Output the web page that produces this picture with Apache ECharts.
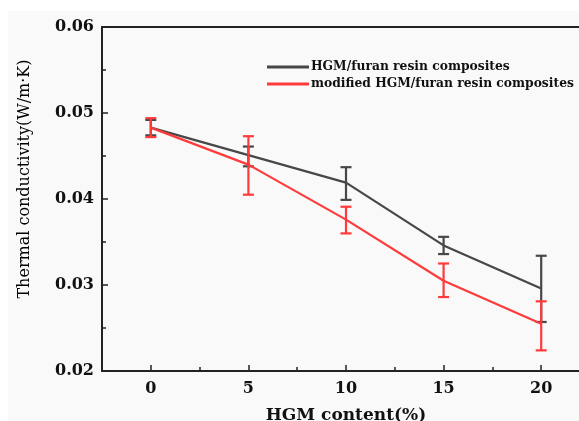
<!DOCTYPE html>
<html>
<head>
<meta charset="utf-8">
<script src="https://cdn.jsdelivr.net/npm/echarts@6/dist/echarts.min.js"></script>
<style>html,body{margin:0;padding:0;background:#fff;}#c{width:579px;height:421px;}</style>
</head>
<body>
<div id="c"></div>
<script>
const xValues = [0, 5, 10, 15, 20];
const hgmMean = [0.0483, 0.0451, 0.0419, 0.0346, 0.0296];
const hgmLow  = [0.0474, 0.0438, 0.0399, 0.0336, 0.0257];
const hgmHigh = [0.0492, 0.0461, 0.0437, 0.0356, 0.0334];
const modMean = [0.0483, 0.0440, 0.0376, 0.0305, 0.0255];
const modLow  = [0.0472, 0.0405, 0.0360, 0.0286, 0.0224];
const modHigh = [0.0494, 0.0473, 0.0391, 0.0325, 0.0281];
const xTicks = [0, 5, 10, 15, 20];
const xMinorTicks = [2.5, 7.5, 12.5, 17.5];
const seriesNames = ['HGM/furan resin composites', 'modified HGM/furan resin composites'];

const BLACK = '#474747';
const RED = '#ff3a3a';
const FONT = 'DejaVu Serif';

function errSeries(name, low, high, color, z) {
  return {
    type: 'custom',
    name: name,
    xAxisIndex: 0,
    yAxisIndex: 0,
    data: xValues.map((x, i) => [x, low[i], high[i]]),
    renderItem: function (params, api) {
      const x = api.value(0);
      const lo = api.coord([x, api.value(1)]);
      const hi = api.coord([x, api.value(2)]);
      const w = 5.5;
      const st = { stroke: color, lineWidth: 2.2 };
      return {
        type: 'group',
        children: [
          { type: 'line', shape: { x1: lo[0], y1: lo[1], x2: hi[0], y2: hi[1] }, style: st },
          { type: 'line', shape: { x1: lo[0] - w, y1: lo[1], x2: lo[0] + w, y2: lo[1] }, style: st },
          { type: 'line', shape: { x1: hi[0] - w, y1: hi[1], x2: hi[0] + w, y2: hi[1] }, style: st }
        ]
      };
    },
    z: z,
    silent: true
  };
}

const chart = echarts.init(document.getElementById('c'));
chart.setOption({
  animation: false,
  backgroundColor: '#ffffff',
  graphic: [
    { type: 'rect', shape: { x: 8, y: 11, width: 571, height: 410 }, style: { fill: '#f9f9f9' }, z: -10, silent: true },
    { type: 'text', x: 25, y: 179, rotation: Math.PI / 2,
      style: { text: 'Thermal conductivity(W/m·K)', font: '16px "' + FONT + '"', fill: '#000', align: 'center', verticalAlign: 'middle' } }
  ],
  grid: { left: 102, top: 27, width: 488, height: 344, outerBoundsMode: 'none', containLabel: false },
  legend: {
    orient: 'vertical', left: 262, top: 56, itemGap: 5, itemWidth: 42, itemHeight: 3,
    icon: 'rect',
    textStyle: { fontFamily: FONT, fontWeight: 'bold', fontSize: 12.3, color: '#111', padding: [0, 0, 0, -3] },
    data: seriesNames
  },
  xAxis: [
    {
      type: 'value', min: -2.5, max: 22.5,
      axisLine: { show: true, onZero: false, lineStyle: { color: '#222', width: 2 } },
      splitLine: { show: false },
      axisTick: { show: true, inside: true, length: 6, customValues: xTicks, lineStyle: { color: '#222', width: 1.5 } },
      axisLabel: { customValues: xTicks, margin: 10, fontFamily: FONT, fontWeight: 'bold', fontSize: 16, color: '#111' },
      name: 'HGM content(%)', nameLocation: 'middle', nameGap: 36,
      nameTextStyle: { fontFamily: FONT, fontWeight: 'bold', fontSize: 17, color: '#111' }
    },
    {
      type: 'value', min: -2.5, max: 22.5, position: 'bottom',
      axisLine: { show: false, onZero: false },
      splitLine: { show: false },
      axisTick: { show: true, inside: true, length: 4, customValues: xMinorTicks, lineStyle: { color: '#222', width: 1.5 } },
      axisLabel: { show: false }
    },
    {
      type: 'value', min: -2.5, max: 22.5, position: 'top',
      axisLine: { show: true, onZero: false, lineStyle: { color: '#222', width: 2 } },
      splitLine: { show: false },
      axisTick: { show: false },
      axisLabel: { show: false }
    }
  ],
  yAxis: {
    type: 'value', min: 0.02, max: 0.06, interval: 0.01,
    axisLine: { show: true, onZero: false, lineStyle: { color: '#222', width: 2 } },
    splitLine: { show: false },
    axisTick: { show: true, inside: true, length: 6, lineStyle: { color: '#222', width: 1.5 } },
    minorTick: { show: true, splitNumber: 2, length: 4, lineStyle: { color: '#222', width: 1.5 } },
    axisLabel: { margin: 8, fontFamily: FONT, fontWeight: 'bold', fontSize: 16, color: '#111',
      formatter: v => v.toFixed(2) }
  },
  series: [
    { type: 'line', name: seriesNames[0], data: xValues.map((x, i) => [x, hgmMean[i]]), symbol: 'none',
      lineStyle: { color: BLACK, width: 2.2 }, itemStyle: { color: BLACK }, z: 2 },
    errSeries('errHGM', hgmLow, hgmHigh, BLACK, 3),
    { type: 'line', name: seriesNames[1], data: xValues.map((x, i) => [x, modMean[i]]), symbol: 'none',
      lineStyle: { color: RED, width: 2.2 }, itemStyle: { color: RED }, z: 4 },
    errSeries('errMod', modLow, modHigh, RED, 5)
  ]
});
</script>
</body>
</html>
